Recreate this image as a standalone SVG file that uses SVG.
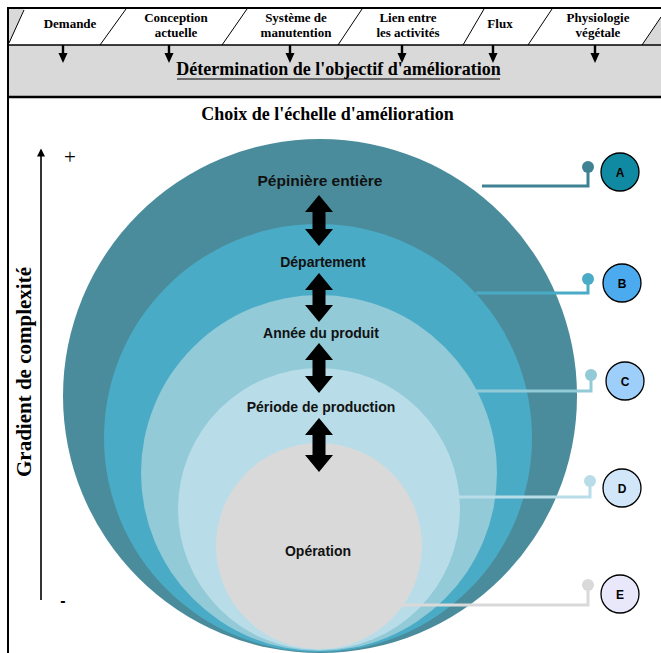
<svg xmlns="http://www.w3.org/2000/svg" width="661" height="653" viewBox="0 0 661 653">
<style>
.hdr{font-family:"Liberation Serif","Times New Roman",serif;font-weight:bold;font-size:13px;fill:#000;text-anchor:middle}
.ttl{font-family:"Liberation Serif","Times New Roman",serif;font-weight:bold;font-size:18px;fill:#000;text-anchor:middle}
.lvl{font-family:"Liberation Sans",Arial,sans-serif;font-weight:bold;font-size:14px;fill:#111;text-anchor:middle}
.tag{font-family:"Liberation Sans",Arial,sans-serif;font-weight:bold;font-size:12px;fill:#000;text-anchor:middle}
.slash{stroke:#000;stroke-width:1;fill:none}
.dn{fill:#000}
.dbl{fill:#000}
.lc{stroke:#000;stroke-width:1.3}
.con{fill:none;stroke-width:3}
</style>
<defs>
<marker id="ah" viewBox="0 0 10 10" refX="8" refY="5" markerWidth="9" markerHeight="8" markerUnits="userSpaceOnUse" orient="auto">
<path d="M0,0 L10,5 L0,10 Z" fill="#000"/>
</marker>
</defs>
<rect width="661" height="653" fill="#fff"/>

<g id="header">
<rect x="8" y="8" width="653" height="89" fill="#d9d9d9"/>
<polygon points="9,44 24,9 661,9 661,17 642,45 9,45" fill="#fff"/>
<polygon points="9,45 9,44 10,45" fill="#d9d9d9"/>
<line class="slash" x1="9" y1="43" x2="24" y2="10"/>
<line class="slash" x1="100" y1="45" x2="126" y2="9"/>
<line class="slash" x1="222" y1="45" x2="247" y2="9"/>
<line class="slash" x1="338" y1="45" x2="362" y2="9"/>
<line class="slash" x1="463" y1="45" x2="484" y2="9"/>
<line class="slash" x1="528" y1="45" x2="552" y2="9"/>
<line class="slash" x1="642" y1="45" x2="661" y2="17"/>
<line x1="8" y1="45" x2="661" y2="45" stroke="#000" stroke-width="1.5"/>
<text class="hdr" x="70" y="28">Demande</text>
<text class="hdr" x="176" y="22">Conception</text>
<text class="hdr" x="176" y="37">actuelle</text>
<text class="hdr" x="296" y="22">Système de</text>
<text class="hdr" x="296" y="37">manutention</text>
<text class="hdr" x="408" y="22">Lien entre</text>
<text class="hdr" x="408" y="37">les activités</text>
<text class="hdr" x="500" y="28">Flux</text>
<text class="hdr" x="598" y="22">Physiologie</text>
<text class="hdr" x="598" y="37">végétale</text>
</g>

<g id="header-arrows">
<g transform="translate(63,0)"><rect x="-1.2" y="45" width="2.4" height="9" class="dn"/><polygon points="-4.5,53 4.5,53 0,63" class="dn"/></g>
<g transform="translate(169,0)"><rect x="-1.2" y="45" width="2.4" height="9" class="dn"/><polygon points="-4.5,53 4.5,53 0,63" class="dn"/></g>
<g transform="translate(290,0)"><rect x="-1.2" y="45" width="2.4" height="9" class="dn"/><polygon points="-4.5,53 4.5,53 0,63" class="dn"/></g>
<g transform="translate(402,0)"><rect x="-1.2" y="45" width="2.4" height="9" class="dn"/><polygon points="-4.5,53 4.5,53 0,63" class="dn"/></g>
<g transform="translate(493,0)"><rect x="-1.2" y="45" width="2.4" height="9" class="dn"/><polygon points="-4.5,53 4.5,53 0,63" class="dn"/></g>
<g transform="translate(595,0)"><rect x="-1.2" y="45" width="2.4" height="9" class="dn"/><polygon points="-4.5,53 4.5,53 0,63" class="dn"/></g>
</g>

<g id="objectif">
<text class="ttl" x="338.5" y="75">Détermination de l'objectif d'amélioration</text>
<line x1="177" y1="79" x2="500" y2="79" stroke="#000" stroke-width="1.2"/>
</g>

<g id="frame">
<line x1="8" y1="8" x2="661" y2="8" stroke="#000" stroke-width="2"/>
<line x1="8" y1="7" x2="8" y2="653" stroke="#000" stroke-width="2"/>
<line x1="8" y1="97" x2="661" y2="97" stroke="#000" stroke-width="2.5"/>
</g>

<text class="ttl" x="327.5" y="120">Choix de l'échelle d'amélioration</text>

<g id="gradient">
<line x1="41" y1="600" x2="41" y2="150" stroke="#000" stroke-width="1.6" marker-end="url(#ah)"/>
<text x="70" y="164" fill="#000" font-family="'Liberation Serif','Times New Roman',serif" font-size="21" text-anchor="middle">+</text>
<text x="63" y="606" fill="#000" font-family="'Liberation Sans',Arial,sans-serif" font-weight="bold" font-size="16" text-anchor="middle">-</text>
<text transform="translate(31,372) rotate(-90)" fill="#000" font-family="'Liberation Serif','Times New Roman',serif" font-weight="bold" font-size="21" text-anchor="middle">Gradient de complexité</text>
</g>

<g id="circle-A"><circle cx="320" cy="396" r="257" fill="#4a8c9b"/></g>
<g id="circle-B"><circle cx="318" cy="438" r="214" fill="#4aabc6"/></g>
<g id="circle-C"><circle cx="319" cy="473" r="178" fill="#92cad8"/></g>
<g id="circle-D"><circle cx="319" cy="509" r="141" fill="#b8dde8"/></g>
<g id="circle-E"><circle cx="319" cy="546" r="103" fill="#d9d9d9"/></g>

<g id="level-labels">
<text class="lvl" x="320" y="186" style="font-size:15.5px">Pépinière entière</text>
<text class="lvl" x="323" y="267">Département</text>
<text class="lvl" x="321" y="338">Année du produit</text>
<text class="lvl" x="321" y="412">Période de production</text>
<text class="lvl" x="318" y="556">Opération</text>
</g>

<g id="double-arrows">
<polygon class="dbl" points="319,195 333,212 325.5,212 325.5,229 333,229 319,246 305,229 312.5,229 312.5,212 305,212"/>
<polygon class="dbl" points="319,273 333,290 325.5,290 325.5,305 333,305 319,322 305,305 312.5,305 312.5,290 305,290"/>
<polygon class="dbl" points="319,343 333,360 325.5,360 325.5,376 333,376 319,393 305,376 312.5,376 312.5,360 305,360"/>
<polygon class="dbl" points="319,418 333,435 325.5,435 325.5,455 333,455 319,472 305,455 312.5,455 312.5,435 305,435"/>
</g>

<g id="connectors">
<polyline class="con" stroke="#3f8294" points="482,186 588,186 588,167"/>
<circle cx="588" cy="167" r="6" fill="#3f8294"/>
<polyline class="con" stroke="#4aabc6" points="476,293 588,293 588,279"/>
<circle cx="588" cy="279" r="6" fill="#4aabc6"/>
<polyline class="con" stroke="#92cad8" points="476,391 591,391 591,375"/>
<circle cx="591" cy="375" r="6" fill="#92cad8"/>
<polyline class="con" stroke="#b8dde8" points="457,497 590,497 590,481"/>
<circle cx="590" cy="481" r="6" fill="#b8dde8"/>
<polyline class="con" stroke="#d9d9d9" points="395,605 588,605 588,585"/>
<circle cx="588" cy="585" r="6" fill="#d9d9d9"/>
</g>

<g id="tag-A"><circle class="lc" cx="620" cy="172" r="19" fill="#108aa2"/><text class="tag" x="620" y="176.5">A</text></g>
<g id="tag-B"><circle class="lc" cx="622" cy="283" r="19" fill="#4caaee"/><text class="tag" x="622" y="287.5">B</text></g>
<g id="tag-C"><circle class="lc" cx="625" cy="381" r="19" fill="#9ecefa"/><text class="tag" x="625" y="385.5">C</text></g>
<g id="tag-D"><circle class="lc" cx="622" cy="488" r="19" fill="#d2e6fa"/><text class="tag" x="622" y="492.5">D</text></g>
<g id="tag-E"><circle class="lc" cx="620" cy="594" r="19" fill="#e8e8fa"/><text class="tag" x="620" y="598.5">E</text></g>
</svg>
